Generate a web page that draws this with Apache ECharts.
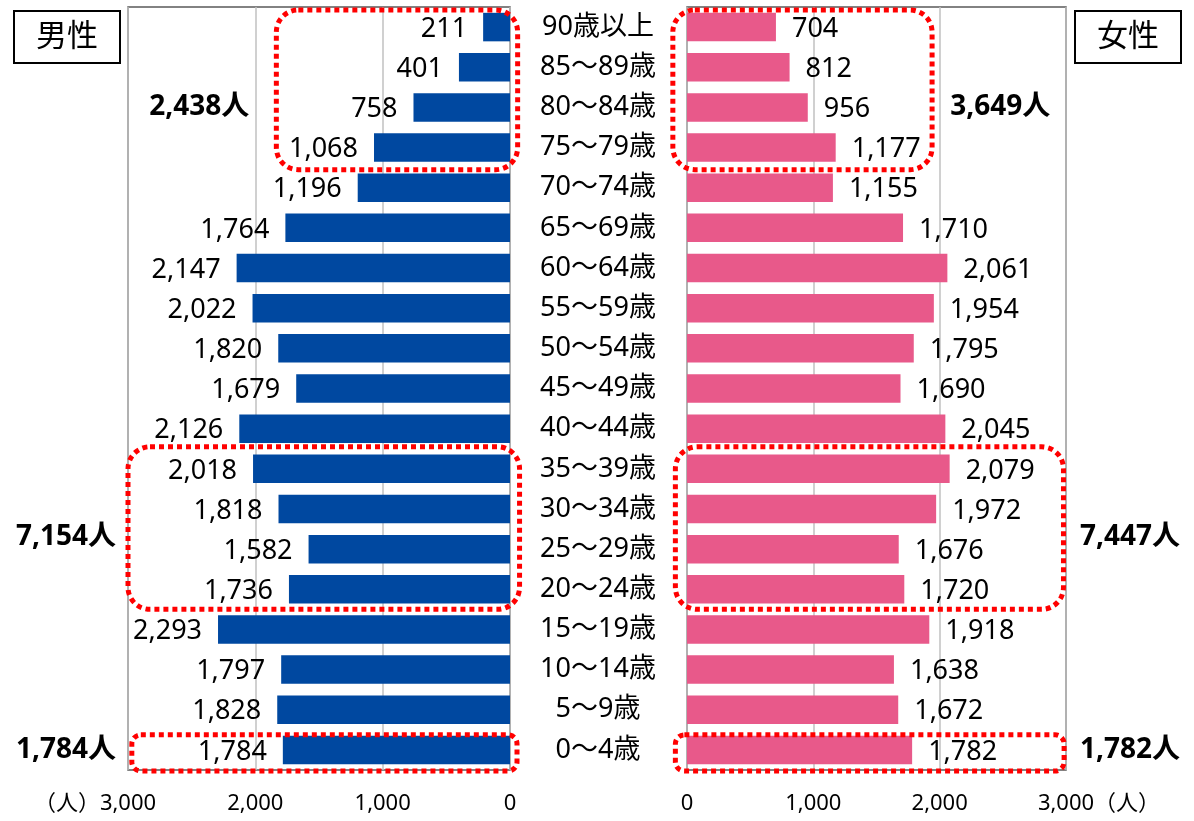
<!DOCTYPE html>
<html>
<head>
<meta charset="utf-8">
<script src="https://cdn.jsdelivr.net/npm/echarts@6/dist/echarts.min.js"></script>
<style>
  html, body { margin: 0; padding: 0; background: #ffffff; }
  #chart { width: 1194px; height: 821px; }
</style>
</head>
<body>
<div id="chart"></div>
<script>
// Age groups, top row first
const ageGroups = [
  '90歳以上', '85～89歳', '80～84歳', '75～79歳', '70～74歳', '65～69歳',
  '60～64歳', '55～59歳', '50～54歳', '45～49歳', '40～44歳', '35～39歳',
  '30～34歳', '25～29歳', '20～24歳', '15～19歳', '10～14歳', '5～9歳', '0～4歳'
];
const maleCounts = [
  211, 401, 758, 1068, 1196, 1764, 2147, 2022, 1820, 1679,
  2126, 2018, 1818, 1582, 1736, 2293, 1797, 1828, 1784
];
const femaleCounts = [
  704, 812, 956, 1177, 1155, 1710, 2061, 1954, 1795, 1690,
  2045, 2079, 1972, 1676, 1720, 1918, 1638, 1672, 1782
];
const axisMax = 3000;
const axisStep = 1000;
// Age bands that are bracketed and summed (first and last row index)
const groupRanges = [[0, 3], [11, 14], [18, 18]];
const sexLabels = ['男性', '女性'];
const unitLabel = '（人）';

const FONT = "'Noto Sans', 'Noto Sans CJK JP', sans-serif";
const MALE_COLOR = '#0048A0';
const FEMALE_COLOR = '#E8598A';
const fmt = v => Number(v).toLocaleString('en-US');

const chart = echarts.init(document.getElementById('chart'), null, { renderer: 'canvas' });

const frame = { show: true, borderColor: '#595959', borderWidth: 1.5, backgroundColor: '#ffffff' };

function valueAxis(gridIndex, inverse) {
  return {
    type: 'value', gridIndex, inverse, min: 0, max: axisMax, interval: axisStep,
    axisLine: { show: false }, axisTick: { show: false },
    splitLine: { show: true, lineStyle: { color: '#C0C0C0', width: 1.5 } },
    axisLabel: { fontFamily: FONT, fontSize: 22, color: '#000', margin: 23, formatter: fmt }
  };
}

const option = {
  animation: false,
  backgroundColor: '#ffffff',
  grid: [
    Object.assign({ left: 128, right: 684, top: 7, bottom: 51 }, frame),
    Object.assign({ left: 687, right: 128, top: 7, bottom: 51 }, frame)
  ],
  xAxis: [valueAxis(0, true), valueAxis(1, false)],
  yAxis: [
    { type: 'category', gridIndex: 0, inverse: true, data: ageGroups,
      axisLine: { show: false }, axisTick: { show: false }, axisLabel: { show: false } },
    { type: 'category', gridIndex: 1, inverse: true, data: ageGroups,
      axisLine: { show: false }, axisTick: { show: false },
      axisLabel: { fontFamily: FONT, fontSize: 27, color: '#000', align: 'center', margin: 89,
                   padding: [3, 0, 0, 0] } }
  ],
  series: [
    { type: 'bar', name: sexLabels[0], xAxisIndex: 0, yAxisIndex: 0, data: maleCounts,
      barWidth: '71%', itemStyle: { color: MALE_COLOR },
      label: { show: true, position: 'left', distance: 16, offset: [0, 2], fontFamily: FONT, fontSize: 27,
               color: '#000', formatter: p => fmt(p.value) } },
    { type: 'bar', name: sexLabels[1], xAxisIndex: 1, yAxisIndex: 1, data: femaleCounts,
      barWidth: '71%', itemStyle: { color: FEMALE_COLOR },
      label: { show: true, position: 'right', distance: 16, offset: [0, 2], fontFamily: FONT, fontSize: 27,
               color: '#000', formatter: p => fmt(p.value) } }
  ]
};
chart.setOption(option);

// ---- annotations placed through the axes' own coordinate mapping ----
function toPx(g, value, cat) {
  return chart.convertToPixel({ xAxisIndex: g, yAxisIndex: g }, [value, cat]);
}
const y0 = toPx(0, 0, 0)[1];
const band = toPx(0, 0, 1)[1] - y0;
const bandTop = i => y0 + (i - 0.5) * band;
const rowY = i => y0 + i * band;
const xAt = (g, v) => toPx(g, v, 0)[0];

// bracket extents along the value axis, one per group and side
const bracketSpan = [
  [[1835, -60], [-112, 1940]],
  [[3000, -75], [-92, 2980]],
  [[2970, -55], [-92, 2985]]
];
const bracketRadius = [22, 22, 9];
const bracketPad = [[3, 2], [-2, 0], [5, 1]];

const graphics = [];
groupRanges.forEach(([a, b], k) => {
  [0, 1].forEach(g => {
    const xa = xAt(g, bracketSpan[k][g][0]);
    const xb = xAt(g, bracketSpan[k][g][1]);
    const top = bandTop(a) + bracketPad[k][0];
    const bottom = bandTop(b + 1) + bracketPad[k][1];
    graphics.push({
      type: 'rect', z: 100,
      shape: { x: Math.min(xa, xb), y: top, width: Math.abs(xb - xa), height: bottom - top, r: bracketRadius[k] },
      style: { fill: 'none', stroke: '#FF0000', lineWidth: 5, lineDash: [5, 4] }
    });
  });
});

// group totals
const sum = (arr, a, b) => arr.slice(a, b + 1).reduce((s, v) => s + v, 0);
const totalRow = [2, 12.7, 18];
const leftFrame = xAt(0, axisMax);
const rightFrame = xAt(1, axisMax);
groupRanges.forEach(([a, b], k) => {
  const y = rowY(totalRow[k]);
  const maleText = fmt(sum(maleCounts, a, b)) + '人';
  const femaleText = fmt(sum(femaleCounts, a, b)) + '人';
  const common = { fontFamily: FONT, fontSize: 28, fontWeight: 'bold', fill: '#000', verticalAlign: 'middle' };
  if (k === 0) {
    graphics.push({ type: 'text', z: 110, x: xAt(0, 2440), y,
      style: Object.assign({ text: maleText, align: 'center' }, common) });
    graphics.push({ type: 'text', z: 110, x: xAt(1, 2480), y,
      style: Object.assign({ text: femaleText, align: 'center' }, common) });
  } else {
    graphics.push({ type: 'text', z: 110, x: leftFrame - 12, y,
      style: Object.assign({ text: maleText, align: 'right' }, common) });
    graphics.push({ type: 'text', z: 110, x: rightFrame + 14, y,
      style: Object.assign({ text: femaleText, align: 'left' }, common) });
  }
});

// unit marks next to the outer tick labels
const tickY = toPx(0, 0, ageGroups.length - 1)[1] + band / 2 + 23;
graphics.push({ type: 'text', x: leftFrame - 28, y: tickY,
  style: { text: unitLabel, fontFamily: FONT, fontSize: 22, fill: '#000', align: 'right', verticalAlign: 'top' } });
graphics.push({ type: 'text', x: rightFrame + 28, y: tickY,
  style: { text: unitLabel, fontFamily: FONT, fontSize: 22, fill: '#000', align: 'left', verticalAlign: 'top' } });

// sex captions in framed boxes
[[14, 11, sexLabels[0]], [1075, 11, sexLabels[1]]].forEach(([x, y, t]) => {
  graphics.push({ type: 'rect', shape: { x, y, width: 106, height: 52 },
    style: { fill: '#fff', stroke: '#000', lineWidth: 2 } });
  graphics.push({ type: 'text', x: x + 53, y: y + 26,
    style: { text: t, fontFamily: FONT, fontSize: 31, fill: '#000', align: 'center', verticalAlign: 'middle' } });
});

chart.setOption({ graphic: graphics });
</script>
</body>
</html>
